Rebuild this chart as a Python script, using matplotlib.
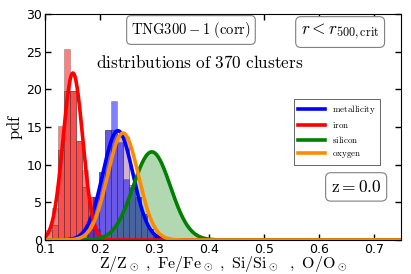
import numpy as np
import matplotlib
matplotlib.use('Agg')
import matplotlib.pyplot as plt

plt.rcParams['mathtext.fontset'] = 'cm'

# histogram bars
iron_left = 0.1011
iron_width = 0.0111
iron_bars = [1.3, 4.2, 15.1, 25.3, 19.8, 13.1, 9.3, 5.7, 1.5]
iron_under = [0.0, 2.0, 12.0, 19.8, 19.8, 13.1, 7.0, 5.7, 1.5]

metal_left = 0.1764
metal_width = 0.011
metal_bars = [1.5, 5.7, 9.0, 14.6, 18.4, 13.0, 8.1, 7.0, 5.7, 3.5, 1.5, 0.5, 0.3]
metal_under = [1.5, 5.7, 9.0, 14.6, 14.6, 13.7, 13.7, 7.3, 5.7, 3.5, 1.5, 0.5, 0.3]

# gaussian fits
names = ['metallicity', 'iron', 'silicon', 'oxygen']
colors = ['blue', 'red', 'green', 'darkorange']
fit_mean = [0.233, 0.151, 0.295, 0.2424]
fit_sigma = [0.0275, 0.018, 0.0341, 0.0281]

fig = plt.figure(figsize=(4.11, 2.74), dpi=100)
ax = fig.add_axes([0.1095, 0.124, 0.8662, 0.825])

def bars(left, width, h, col, a):
    x = left + width * np.arange(len(h))
    ax.bar(x, h, width=width, align='edge', color=col, alpha=a,
           edgecolor='0.25', linewidth=0.4)

bars(iron_left, iron_width, iron_under, '#ff9c9c', 1.0)
bars(metal_left, metal_width, metal_under, '#d2b2cc', 1.0)
bars(iron_left, iron_width, iron_bars, 'red', 0.5)
bars(metal_left, metal_width, metal_bars, 'blue', 0.5)

xx = np.linspace(0.1, 0.75, 600)
for nm, c, m, s in zip(names, colors, fit_mean, fit_sigma):
    pdf = np.exp(-0.5 * ((xx - m) / s) ** 2) / (s * np.sqrt(2 * np.pi))
    if nm == 'silicon':
        ax.fill_between(xx, 0, pdf, color='green', alpha=0.3, lw=0)
    ax.plot(xx, pdf, color=c, lw=2.6, label=r'$\mathrm{%s}$' % nm)

ax.set_xlim(0.1, 0.75)
ax.set_ylim(0, 30)
ax.set_xticks([0.1, 0.2, 0.3, 0.4, 0.5, 0.6, 0.7])
ax.set_yticks([0, 5, 10, 15, 20, 25, 30])
ax.tick_params(direction='in', top=True, right=True, length=4, width=1,
               labelsize=9, pad=2)

ax.set_ylabel(r'$\mathrm{pdf}$', fontsize=12, labelpad=1)
ax.set_xlabel(r'$\mathrm{Z/Z_\odot\ ,\ Fe/Fe_\odot\ ,\ Si/Si_\odot\ \ ,\ O/O_\odot}$',
              fontsize=11.5, labelpad=-1)

box = dict(boxstyle='round,pad=0.3', facecolor='white', edgecolor='0.5', lw=0.8)
ax.text(0.41, 0.929, r'$\mathrm{TNG300-1\ (corr)}$', transform=ax.transAxes,
        ha='center', va='center', fontsize=10.5, bbox=box)
ax.text(0.829, 0.92, r'$r<r_{500,\mathrm{crit}}$', transform=ax.transAxes,
        ha='center', va='center', fontsize=12.5, bbox=box)
ax.text(0.435, 0.783, r'$\mathrm{distributions\ of\ 370\ clusters}$', transform=ax.transAxes,
        ha='center', va='center', fontsize=12.4)
ax.text(0.874, 0.235, r'$\mathrm{z=0.0}$', transform=ax.transAxes,
        ha='center', va='center', fontsize=12.5, bbox=box)

leg = ax.legend(loc='upper right', bbox_to_anchor=(0.955, 0.645), fontsize=6.5,
                handlelength=3, fancybox=False, framealpha=1, borderpad=0.5,
                labelspacing=0.45)
leg.get_frame().set_edgecolor('0.3')
leg.get_frame().set_linewidth(0.6)

fig.savefig('out.png', dpi=100)
